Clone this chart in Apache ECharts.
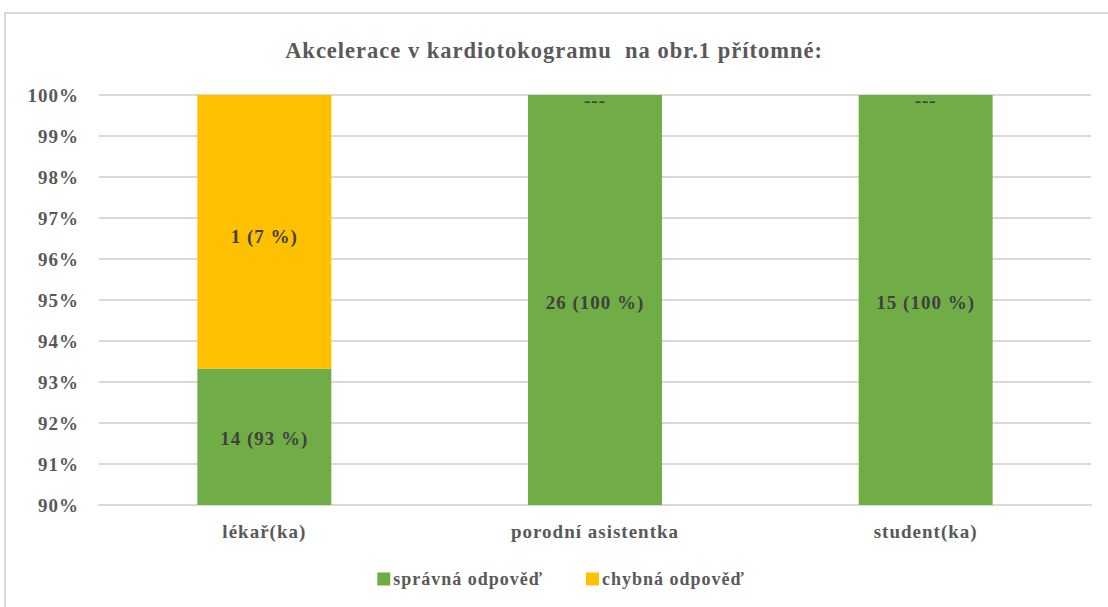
<!DOCTYPE html>
<html><head><meta charset="utf-8">
<script src="https://cdn.jsdelivr.net/npm/echarts@6/dist/echarts.min.js"></script>
<style>
html,body{margin:0;padding:0;background:#fff;overflow:hidden}
#frame{position:absolute;left:4px;top:12px;width:1130px;height:640px;border:2px solid #d9d9d9;box-sizing:border-box}
#c{position:absolute;left:0;top:0;width:1108px;height:607px}
#c svg text{letter-spacing:1px}
</style></head><body>
<div id="frame"></div><div id="c"></div>
<script>
const title = 'Akcelerace v kardiotokogramu  na obr.1 přítomné:';
const categories = ['lékař(ka)', 'porodní asistentka', 'student(ka)'];
const seriesNames = ['správná odpověď', 'chybná odpověď'];
const correctCounts = [14, 26, 15];
const wrongCounts = [1, 0, 0];
const correctPct = [93.33, 100, 100];
const wrongPct = [6.67, 0, 0];
const correctPctLabel = [93, 100, 100];
const wrongPctLabel = [7, 0, 0];
const yMin = 90, yMax = 100, yStep = 1;

const FONT = '"Liberation Serif", "Times New Roman", serif';
const TXT = '#595959';

function lbl(counts, pcts) {
  return function (p) {
    const i = p.dataIndex;
    if (counts[i] === 0) return '---';
    return counts[i] + ' (' + pcts[i] + ' %)';
  };
}

const chart = echarts.init(document.getElementById('c'), null, {renderer: 'svg'});
chart.setOption({
  animation: false,
  color: ['#70ad47', '#ffc000'],
  title: {
    text: title, left: 'center', top: 34,
    textStyle: {fontFamily: FONT, fontSize: 22.5, fontWeight: 'bold', color: TXT}
  },
  legend: {
    bottom: 14, left: 'center', itemWidth: 13, itemHeight: 13, itemGap: 58,
    icon: 'rect',
    textStyle: {fontFamily: FONT, fontSize: 18, fontWeight: 'bold', color: TXT, padding: [0, 0, 0, -2]},
    data: seriesNames
  },
  grid: {left: 99, right: 17, top: 95, bottom: 102, containLabel: false},
  xAxis: {
    type: 'category', data: categories,
    axisLine: {lineStyle: {color: '#d9d9d9', width: 2}},
    axisTick: {show: false},
    axisLabel: {fontFamily: FONT, fontSize: 19, fontWeight: 'bold', color: TXT, margin: 17}
  },
  yAxis: {
    type: 'value', min: yMin, max: yMax, interval: yStep, startValue: yMin,
    axisLine: {show: false}, axisTick: {show: false},
    splitLine: {lineStyle: {color: '#d9d9d9', width: 2}},
    axisLabel: {fontFamily: FONT, fontSize: 19, fontWeight: 'bold', color: TXT, margin: 20,
      padding: [5, 0, 0, 0], formatter: v => v + '%'}
  },
  series: [
    {
      name: seriesNames[0], type: 'bar', stack: 'a', data: correctPct, barWidth: '40.5%',
      label: {show: true, position: 'inside', offset: [0, 2], fontFamily: FONT, fontSize: 19, fontWeight: 'bold',
        color: '#404040', formatter: lbl(correctCounts, correctPctLabel)}
    },
    {
      name: seriesNames[1], type: 'bar', stack: 'a', data: wrongPct, barWidth: '40.5%',
      label: {show: true, position: 'inside', offset: [0, 5], fontFamily: FONT, fontSize: 19, fontWeight: 'bold',
        color: '#404040', formatter: lbl(wrongCounts, wrongPctLabel)}
    }
  ]
});
</script>
</body></html>
